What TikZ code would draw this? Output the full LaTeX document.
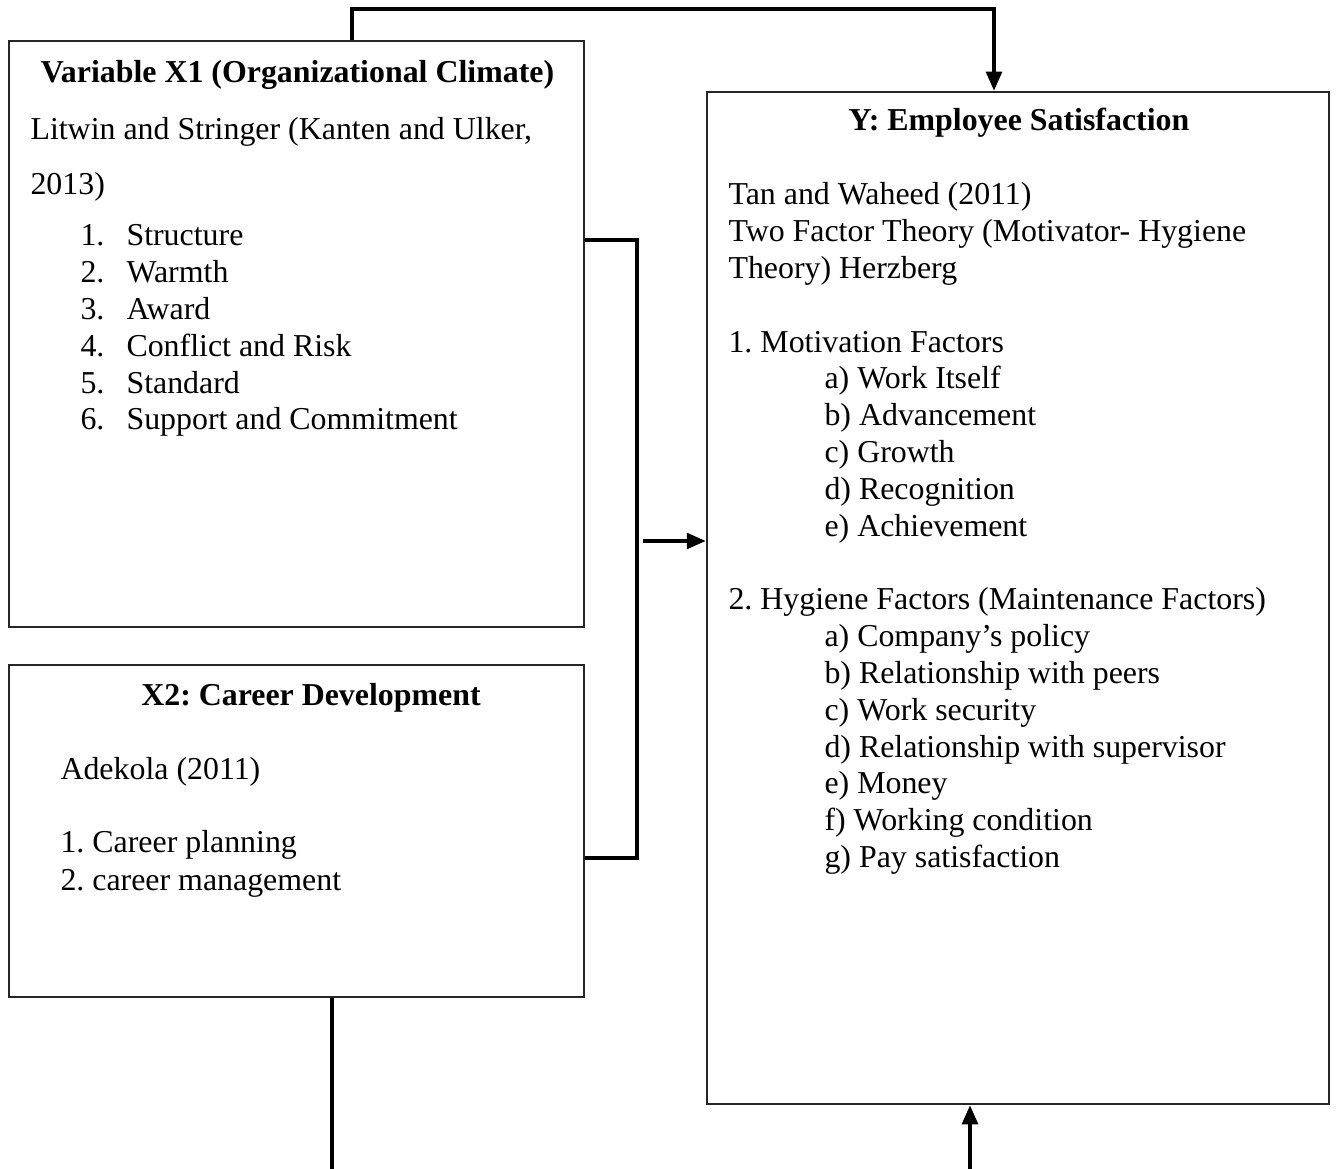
\documentclass[tikz,border=0pt]{standalone}
\usepackage{fontspec}
\setmainfont{Liberation Serif}
\frenchspacing
\usetikzlibrary{arrows.meta,positioning}
\tikzset{
    varbox/.style={
        rectangle,
        draw=black!85,
        line width=1pt,
        inner sep=0pt,
    },
    head/.style={
        anchor=base,
        font=\fontsize{12}{13.8}\selectfont\bfseries,
        inner sep=0pt,
    },
    body/.style={
        anchor=base west,
        font=\fontsize{12}{13.8}\selectfont,
        inner sep=0pt,
    },
    link/.style={
        draw,
        line width=1.2pt,
    },
    flow/.style={
        link,
        -{Triangle[length=2.5mm,width=2.1mm]},
    },
}

\begin{document}
\begin{tikzpicture}[x=0.01323cm,y=-0.01323cm]
    \useasboundingbox (0,0) rectangle (1336,1169);

    % boxes
    \node [varbox, minimum width=7.607cm, minimum height=7.753cm] (x1) at (296.5,334) {};
    \node [varbox, minimum width=7.607cm, minimum height=4.392cm] (x2) at (296.5,831) {};
    \node [varbox, minimum width=8.229cm, minimum height=13.389cm] (y) at (1018,598) {};

    % X1
    \node [head] (x1title) at (297.5,83) {Variable X1 (Organizational Climate)};
    \node [body] (x1src) at (30,140) {Litwin and Stringer (Kanten and Ulker,};
    \node [body] (x1year) at (30,195) {2013)};
    \foreach \t [count=\i] in {Structure, Warmth, Award, Conflict and Risk, Standard, Support and Commitment}{
        \node [body] at (80,246+36.8*\i-36.8) {\i.};
        \node [body] at (126,246+36.8*\i-36.8) {\t};
    }

    % X2
    \node [head] (x2title) at (311,705) {X2: Career Development};
    \node [body] (x2src) at (60,779) {Adekola (2011)};
    \node [body] at (60,852) {1. Career planning};
    \node [body] at (60,890) {2. career management};

    % Y
    \node [head] (ytitle) at (1019,131) {Y: Employee Satisfaction};
    \foreach \t [count=\i from 0] in {Tan and Waheed (2011), Two Factor Theory (Motivator- Hygiene, Theory) Herzberg, , 1. Motivation Factors}
        \node [body] at (728,205+36.8*\i) {\t};
    \foreach \t [count=\i from 0] in {a) Work Itself, b) Advancement, c) Growth, d) Recognition, e) Achievement}
        \node [body] at (824,389+36.8*\i) {\t};
    \node [body] at (728,609.8) {2. Hygiene Factors (Maintenance Factors)};
    \foreach \t [count=\i from 0] in {a) Company’s policy, b) Relationship with peers, c) Work security, d) Relationship with supervisor, e) Money, f) Working condition, g) Pay satisfaction}
        \node [body] at (824,646.6+36.8*\i) {\t};

    % connectors
    \coordinate (tl) at (352,9);
    \coordinate (tr) at (994,9);
    \draw [flow] (x1.north -| tl) -- (tl) -- (tr) -- (tr |- y.north);

    \coordinate (mid) at (637,541);
    \coordinate (gap) at (643,541);
    \draw [link] (x1.east |- 0,240) -| (mid) |- (x2.east |- 0,858);
    \draw [flow] (gap) -- (gap -| y.west);

    \coordinate (b1) at (332,1169);
    \coordinate (b2) at (970,1169);
    \draw [link] (x2.south -| b1) -- (b1);
    \draw [flow] (b2) -- (b2 |- y.south);
\end{tikzpicture}
\end{document}
